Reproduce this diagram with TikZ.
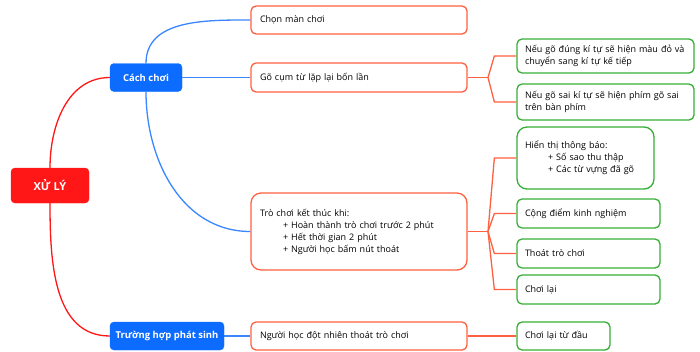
\documentclass[tikz,border=0pt]{standalone}
\usepackage{fontspec}
\setmainfont{Open Sans}
\usepackage{xcolor}
\definecolor{rootred}{RGB}{255, 22, 22}
\definecolor{mainblue}{RGB}{12, 108, 255}
\definecolor{linkblue}{RGB}{58, 134, 255}
\definecolor{stepred}{RGB}{255, 96, 64}
\definecolor{leafgreen}{RGB}{54, 174, 54}
\usepackage{tikz}
\usetikzlibrary{
  arrows.meta,
  positioning
}

\begin{document}
\begin{tikzpicture}[x=1pt, y=1pt,
  rootbox/.style={rectangle, rounded corners=4pt, draw=rootred, fill=rootred, text=white,
    font=\bfseries\fontsize{11}{13}\selectfont, minimum width=78pt, minimum height=35pt},
  mainbox/.style={rectangle, rounded corners=4pt, draw=mainblue, fill=mainblue, text=white,
    font=\bfseries\fontsize{9.5}{11}\selectfont, minimum height=28pt, inner xsep=4pt},
  stepbox/.style={rectangle, rounded corners=5pt, draw=stepred, line width=1.3pt, fill=white,
    font=\fontsize{9}{12}\selectfont, align=left, inner xsep=9pt, text width=198pt, minimum height=28pt},
  leafbox/.style={rectangle, rounded corners=5pt, draw=leafgreen, line width=1.3pt, fill=white,
    font=\fontsize{9}{12}\selectfont, align=left, inner xsep=8pt, minimum height=28pt},
  rootlink/.style={rootred, line width=1.3pt},
  mainlink/.style={linkblue, line width=1.3pt},
  steplink/.style={stepred, line width=1.3pt}]

  \useasboundingbox (0, 0) rectangle (700, -351);

  % root and the two main branches
  \node[rootbox] (root) at (50, -185.5) {XỬ LÝ};
  \node[mainbox, minimum width=72pt] (cach) at (146, -77.5) {Cách chơi};
  \node[mainbox, minimum width=114pt] (phatsinh) at (167, -336) {Trường hợp phát sinh};

  % steps (orange boxes)
  \node[stepbox] (chon) at (359, -20) {Chọn màn chơi};
  \node[stepbox, minimum height=29pt] (go) at (359, -77.5) {Gõ cụm từ lặp lại bốn lần};
  \node[stepbox, rounded corners=10pt, minimum height=77pt] (ketthuc) at (359, -231.5)
    {Trò chơi kết thúc khi:\\
     \hspace*{23pt}+ Hoàn thành trò chơi trước 2 phút\\
     \hspace*{23pt}+ Hết thời gian 2 phút\\
     \hspace*{23pt}+ Người học bấm nút thoát};
  \node[stepbox] (thoat) at (359, -336) {Người học đột nhiên thoát trò chơi};

  % results (green boxes)
  \node[leafbox, text width=161pt, minimum height=34pt] (dung) at (605.5, -56)
    {Nếu gõ đúng kí tự sẽ hiện màu đỏ và\\ chuyển sang kí tự kế tiếp};
  \node[leafbox, text width=161pt, minimum height=36pt] (sai) at (605.5, -102)
    {Nếu gõ sai kí tự sẽ hiện phím gõ sai\\ trên bàn phím};
  \node[leafbox, rounded corners=10pt, text width=121pt, minimum height=62pt] (thongbao) at (585.5, -158)
    {Hiển thị thông báo:\\
     \hspace*{23pt}+ Số sao thu thập\\
     \hspace*{23pt}+ Các từ vựng đã gõ};
  \node[leafbox, text width=127pt, minimum height=29pt] (diem) at (588.5, -213.5) {Cộng điểm kinh nghiệm};
  \node[leafbox, text width=127pt, minimum height=29pt] (thoatgame) at (588.5, -253.5) {Thoát trò chơi};
  \node[leafbox, text width=127pt, minimum height=29pt] (choilai) at (588.5, -289.5) {Chơi lại};
  \node[leafbox, text width=77pt] (daudau) at (563.5, -336) {Chơi lại từ đầu};

  % root to main branches
  \draw[rootlink] (root.north) to[out=90, in=180] (cach.west);
  \draw[rootlink] (root.south) to[out=-90, in=180] (phatsinh.west);

  % main branches to steps
  \draw[mainlink] (cach.north) to[out=90, in=180] (chon.west);
  \draw[mainlink] (cach.east) -- (go.west);
  \draw[mainlink] (cach.south) to[out=-90, in=180] (ketthuc.west);
  \draw[mainlink] (phatsinh.east) -- (thoat.west);

  % steps to results
  \coordinate (j1) at (488, -77.5);
  \coordinate (j2) at (488, -231.5);
  \draw[steplink] (go.east) -- (j1);
  \draw[steplink] (j1) -- ([xshift=-22pt]dung.west) -- (dung.west);
  \draw[steplink] (j1) -- ([xshift=-22pt]sai.west) -- (sai.west);
  \draw[steplink] (ketthuc.east) -- (j2);
  \foreach \leaf in {thongbao, diem, thoatgame, choilai} {
    \draw[steplink] (j2) -- ([xshift=-22pt]\leaf.west) -- (\leaf.west);
  }
  \draw[steplink] (thoat.east) -- (daudau.west);

\end{tikzpicture}
\end{document}
